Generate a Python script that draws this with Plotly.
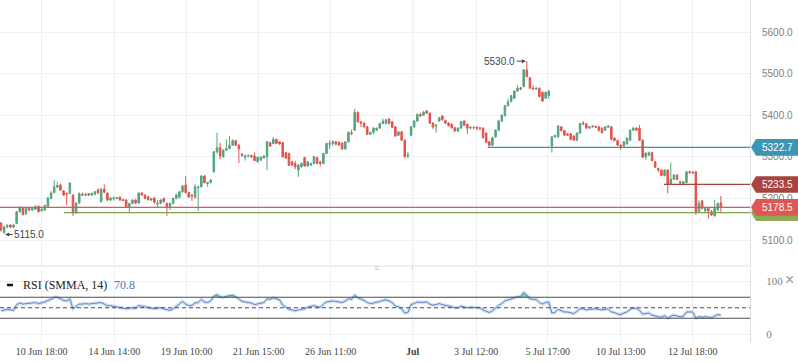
import plotly.graph_objects as go

opens = [
    5141, 5118, 5132, 5136, 5131, 5140, 5168, 5177, 5163, 5176,
    5172, 5174, 5181, 5170, 5172, 5181, 5200, 5214, 5227, 5232,
    5218, 5212, 5212, 5208, 5165, 5189, 5210, 5208, 5211, 5208,
    5210, 5220, 5192, 5222, 5213, 5196, 5199, 5200, 5203, 5197,
    5196, 5180, 5188, 5196, 5189, 5213, 5208, 5204, 5196, 5201,
    5186, 5188, 5200, 5188, 5180, 5188, 5200, 5203, 5216, 5232,
    5214, 5208, 5203, 5226, 5228, 5254, 5235, 5238, 5264, 5312,
    5322, 5300, 5316, 5320, 5328, 5339, 5328, 5307, 5299, 5302,
    5303, 5302, 5288, 5292, 5297, 5300, 5334, 5332, 5342, 5336,
    5334, 5310, 5308, 5288, 5284, 5268, 5276, 5298, 5278, 5280,
    5284, 5298, 5288, 5284, 5308, 5330, 5332, 5336, 5335, 5333,
    5319, 5336, 5358, 5364, 5407, 5384, 5381, 5372, 5354, 5359,
    5364, 5369, 5380, 5380, 5391, 5384, 5372, 5352, 5360, 5340,
    5302, 5352, 5372, 5386, 5402, 5400, 5410, 5405, 5381, 5374,
    5386, 5398, 5387, 5381, 5378, 5370, 5362, 5369, 5386, 5378,
    5369, 5370, 5371, 5370, 5369, 5357, 5336, 5328, 5348, 5364,
    5386, 5399, 5423, 5433, 5441, 5458, 5466, 5469, 5509, 5490,
    5465, 5463, 5465, 5455, 5441, 5447, 5326, 5348, 5348, 5372,
    5363, 5355, 5355, 5350, 5340, 5357, 5381, 5379, 5369, 5372,
    5373, 5372, 5369, 5364, 5371, 5372, 5345, 5339, 5328, 5326,
    5331, 5340, 5364, 5369, 5369, 5340, 5300, 5304, 5310, 5288,
    5272, 5268, 5255, 5268, 5234, 5246, 5256, 5240, 5236, 5238,
    5264, 5263, 5264, 5168, 5194, 5170, 5176, 5168, 5158, 5172,
    5189,
]
highs = [
    5143, 5134, 5138, 5138, 5139, 5170, 5182, 5179, 5179, 5178,
    5180, 5184, 5183, 5177, 5185, 5203, 5218, 5244, 5240, 5236,
    5220, 5214, 5238, 5210, 5190, 5214, 5214, 5212, 5213, 5214,
    5218, 5224, 5226, 5234, 5215, 5203, 5204, 5203, 5205, 5199,
    5198, 5189, 5198, 5198, 5215, 5215, 5210, 5206, 5201, 5203,
    5196, 5198, 5202, 5190, 5190, 5202, 5212, 5218, 5232, 5254,
    5216, 5210, 5234, 5230, 5256, 5256, 5240, 5246, 5314, 5358,
    5334, 5318, 5342, 5350, 5342, 5341, 5330, 5309, 5305, 5306,
    5305, 5310, 5301, 5301, 5304, 5338, 5336, 5348, 5344, 5338,
    5336, 5312, 5310, 5290, 5290, 5282, 5286, 5300, 5290, 5286,
    5302, 5300, 5290, 5310, 5334, 5340, 5340, 5338, 5337, 5335,
    5338, 5361, 5365, 5415, 5409, 5386, 5383, 5374, 5360, 5371,
    5370, 5382, 5392, 5390, 5393, 5386, 5374, 5362, 5362, 5342,
    5312, 5374, 5388, 5404, 5406, 5410, 5413, 5407, 5383, 5378,
    5396, 5400, 5389, 5383, 5380, 5372, 5371, 5386, 5388, 5380,
    5373, 5374, 5373, 5372, 5371, 5359, 5338, 5348, 5366, 5388,
    5402, 5425, 5440, 5449, 5460, 5472, 5468, 5511, 5530, 5492,
    5472, 5467, 5467, 5457, 5457, 5460, 5350, 5353, 5376, 5374,
    5365, 5357, 5357, 5352, 5359, 5382, 5386, 5381, 5374, 5376,
    5375, 5374, 5371, 5374, 5376, 5374, 5347, 5341, 5330, 5338,
    5347, 5366, 5372, 5371, 5376, 5342, 5311, 5313, 5312, 5290,
    5274, 5270, 5270, 5270, 5286, 5258, 5258, 5242, 5242, 5266,
    5267, 5265, 5266, 5196, 5196, 5178, 5178, 5172, 5196, 5190,
    5206,
]
lows = [
    5120, 5115, 5128, 5129, 5129, 5138, 5165, 5159, 5161, 5170,
    5171, 5172, 5166, 5168, 5170, 5180, 5198, 5212, 5225, 5218,
    5206, 5184, 5210, 5158, 5163, 5187, 5206, 5205, 5206, 5206,
    5208, 5210, 5190, 5212, 5194, 5194, 5195, 5198, 5194, 5194,
    5178, 5165, 5186, 5186, 5187, 5207, 5198, 5195, 5194, 5188,
    5178, 5186, 5190, 5158, 5172, 5186, 5198, 5200, 5214, 5212,
    5202, 5194, 5200, 5170, 5226, 5236, 5228, 5236, 5262, 5308,
    5294, 5298, 5314, 5318, 5326, 5326, 5285, 5300, 5291, 5298,
    5298, 5290, 5286, 5290, 5295, 5268, 5324, 5330, 5330, 5329,
    5298, 5295, 5278, 5278, 5270, 5252, 5274, 5276, 5276, 5278,
    5282, 5282, 5277, 5282, 5306, 5319, 5326, 5328, 5326, 5317,
    5317, 5334, 5352, 5362, 5382, 5372, 5370, 5352, 5352, 5354,
    5362, 5367, 5378, 5378, 5378, 5369, 5348, 5350, 5338, 5298,
    5296, 5350, 5370, 5384, 5396, 5398, 5403, 5379, 5367, 5358,
    5384, 5387, 5379, 5373, 5368, 5360, 5360, 5367, 5374, 5355,
    5366, 5366, 5364, 5364, 5344, 5333, 5325, 5326, 5346, 5362,
    5384, 5397, 5421, 5431, 5439, 5456, 5460, 5467, 5491, 5463,
    5461, 5460, 5443, 5432, 5439, 5440, 5310, 5346, 5346, 5361,
    5350, 5350, 5340, 5338, 5338, 5355, 5376, 5367, 5367, 5370,
    5369, 5361, 5356, 5362, 5369, 5340, 5337, 5326, 5316, 5324,
    5329, 5338, 5362, 5362, 5338, 5297, 5293, 5302, 5289, 5273,
    5263, 5253, 5253, 5212, 5232, 5244, 5244, 5232, 5232, 5236,
    5260, 5260, 5160, 5166, 5174, 5168, 5152, 5158, 5156, 5170,
    5166,
]
closes = [
    5124, 5132, 5135, 5131, 5136, 5168, 5177, 5161, 5176, 5172,
    5176, 5180, 5168, 5174, 5183, 5201, 5213, 5228, 5231, 5220,
    5208, 5210, 5237, 5165, 5189, 5212, 5208, 5210, 5208, 5212,
    5216, 5214, 5222, 5215, 5196, 5201, 5201, 5202, 5196, 5195,
    5180, 5188, 5196, 5189, 5213, 5208, 5200, 5197, 5200, 5190,
    5188, 5196, 5192, 5180, 5188, 5200, 5208, 5216, 5230, 5214,
    5203, 5206, 5228, 5228, 5254, 5238, 5238, 5244, 5312, 5322,
    5302, 5316, 5320, 5328, 5339, 5328, 5319, 5304, 5302, 5303,
    5300, 5291, 5299, 5299, 5302, 5336, 5326, 5342, 5332, 5331,
    5300, 5297, 5280, 5280, 5276, 5280, 5284, 5278, 5288, 5284,
    5300, 5284, 5284, 5308, 5332, 5332, 5336, 5330, 5328, 5319,
    5336, 5359, 5356, 5407, 5384, 5381, 5372, 5354, 5359, 5369,
    5369, 5380, 5386, 5389, 5380, 5371, 5350, 5360, 5340, 5300,
    5305, 5372, 5386, 5402, 5398, 5407, 5405, 5381, 5372, 5376,
    5394, 5389, 5381, 5375, 5370, 5362, 5369, 5384, 5376, 5369,
    5371, 5370, 5369, 5368, 5346, 5335, 5327, 5346, 5364, 5386,
    5400, 5423, 5432, 5447, 5458, 5465, 5463, 5509, 5493, 5465,
    5463, 5465, 5445, 5434, 5455, 5458, 5348, 5351, 5374, 5363,
    5352, 5352, 5342, 5340, 5357, 5380, 5379, 5369, 5372, 5374,
    5371, 5363, 5358, 5372, 5374, 5342, 5339, 5328, 5324, 5336,
    5345, 5364, 5369, 5364, 5340, 5299, 5309, 5310, 5291, 5275,
    5268, 5255, 5268, 5234, 5246, 5256, 5246, 5237, 5240, 5264,
    5262, 5261, 5168, 5188, 5176, 5176, 5170, 5160, 5176, 5188,
    5178.5,
]
rsi = [
    44, 46, 47, 46, 45, 56, 59, 57, 58, 58,
    59, 60, 58, 59, 61, 64, 66, 70, 70, 67,
    64, 63, 67, 48, 53, 57, 57, 58, 57, 58,
    59, 60, 60, 57, 54, 54, 53, 52, 51, 50,
    48, 49, 50, 49, 54, 53, 52, 50, 49, 48,
    49, 50, 48, 46, 45, 48, 52, 57, 62, 57,
    54, 55, 59, 60, 66, 61, 60, 63, 72, 75,
    71, 70, 72, 73, 74, 71, 67, 62, 61, 60,
    59, 56, 57, 59, 60, 67, 66, 69, 67, 65,
    55, 51, 47, 46, 44, 46, 47, 48, 51, 52,
    54, 52, 51, 57, 61, 62, 63, 62, 61, 60,
    63, 67, 66, 74, 69, 67, 64, 60, 58, 59,
    60, 62, 64, 65, 63, 60, 53, 52, 48, 40,
    41, 56, 58, 61, 60, 61, 61, 57, 55, 56,
    58, 56, 55, 53, 52, 50, 50, 53, 52, 50,
    51, 51, 51, 50, 46, 43, 41, 44, 49, 55,
    58, 63, 65, 67, 70, 71, 71, 79, 74, 67,
    66, 66, 60, 57, 60, 61, 40, 41, 47, 45,
    42, 42, 40, 39, 43, 48, 48, 46, 47, 48,
    48, 47, 46, 47, 48, 42, 41, 38, 37, 40,
    42, 47, 49, 49, 45, 38, 39, 40, 36, 34,
    33, 32, 35, 30, 34, 36, 34, 33, 34, 42,
    42, 42, 30, 33, 32, 33, 32, 31, 34, 37,
    36,
]
tick_pos = [13.0, 36.2, 59.3, 82.3, 105.3, 131.5, 151.8, 174.7, 198.0, 221.0]
tick_text = ["10 Jun 18:00", "14 Jun 14:00", "19 Jun 10:00", "21 Jun 15:00",
             "26 Jun 11:00", "<b>Jul</b>", "3 Jul 12:00", "5 Jul 17:00",
             "10 Jul 13:00", "12 Jul 18:00"]
price_ticks = [5100, 5200, 5300, 5400, 5500, 5600]
# horizontal levels: value, start index
lvl_support = (5322.7, 155.5)
lvl_resist = (5233.5, 211.8)
lvl_last = (5178.5, -0.32)
lvl_green = (5165.6, 20.1)
rsi_levels = [30, 50, 70]
high_note = (168, 5530.0, "5530.0")
low_note = (1, 5113.0, "5115.0")

N = min(len(opens), len(highs), len(lows), len(closes))
xs = list(range(N))
NR = len(rsi)

W, H = 798, 363
PW, PH = 750, 342
XR = [-0.32, 239.3]
YR = [5037.5, 5677]
RR = [-15.2, 121.9]
main_dom = [1 - 266 / PH, 1]
rsi_dom = [0, 1 - 270 / PH]

GREEN = "#55a47f"
RED = "#e2544f"
GRID = "#eceff3"

def vy(v):
    return main_dom[0] + (v - YR[0]) / (YR[1] - YR[0]) * (main_dom[1] - main_dom[0])

def py(p):
    return 1 - p / PH

fig = go.Figure()
fig.add_trace(go.Candlestick(
    x=xs, open=opens[:N], high=highs[:N], low=lows[:N], close=closes[:N],
    increasing=dict(line=dict(color=GREEN, width=1), fillcolor=GREEN),
    decreasing=dict(line=dict(color=RED, width=1), fillcolor=RED),
    whiskerwidth=0, xaxis="x", yaxis="y", hoverinfo="skip"))

# RSI
rx = list(range(NR))
fig.add_trace(go.Scatter(x=rx, y=[70] * NR, mode="lines", line=dict(width=0),
                         xaxis="x2", yaxis="y2", hoverinfo="skip"))
fig.add_trace(go.Scatter(x=rx, y=[max(v, 70) for v in rsi], mode="lines",
                         line=dict(width=0), fill="tonexty", fillcolor="#86dc86",
                         xaxis="x2", yaxis="y2", hoverinfo="skip"))
fig.add_trace(go.Scatter(x=rx, y=rsi, mode="lines",
                         line=dict(color="rgba(130,170,220,0.35)", width=3.5),
                         xaxis="x2", yaxis="y2", hoverinfo="skip"))
fig.add_trace(go.Scatter(x=rx, y=rsi, mode="lines",
                         line=dict(color="#5a86c4", width=1),
                         xaxis="x2", yaxis="y2", hoverinfo="skip"))

shapes = []
for (val, start), col in [(lvl_green, "#7e9f4c"), (lvl_last, "#e05654"),
                          (lvl_resist, "#a9433f"), (lvl_support, "#3a8fac")]:
    shapes.append(dict(type="line", xref="x", yref="y", x0=start, x1=XR[1],
                       y0=val, y1=val, line=dict(color=col, width=1.2)))
shapes.append(dict(type="line", xref="x", yref="paper", x0=131.5, x1=131.5,
                   y0=0, y1=1, line=dict(color="#d3d6db", width=1), layer="below"))
shapes.append(dict(type="line", xref="paper", yref="paper", x0=0, x1=1,
                   y0=main_dom[0], y1=main_dom[0], line=dict(color="#dde1e6", width=1)))
for lv in rsi_levels:
    shapes.append(dict(type="line", xref="paper", yref="y2", x0=0, x1=1, y0=lv, y1=lv,
                       line=dict(color="#4d4d4d", width=1,
                                 dash="4px,3px" if lv == 50 else "solid")))
annotations = []
def tag(val, color, text=True):
    yc = vy(val)
    h = 8.3 / PH
    path = (f"M {751/PW},{yc} L {756/PW},{yc+h} L {798/PW},{yc+h} "
            f"L {798/PW},{yc-h} L {756/PW},{yc-h} Z")
    shapes.append(dict(type="path", xref="paper", yref="paper", path=path,
                       fillcolor=color, line=dict(width=0), layer="above"))
    if text:
        annotations.append(dict(xref="paper", yref="paper", x=777 / PW, y=yc,
                                text=f"{val:.1f}", showarrow=False,
                                font=dict(family="Liberation Sans", size=10, color="white"),
                                xanchor="center", yanchor="middle"))

tag(lvl_support[0], "#3e95b2")
tag(lvl_resist[0], "#a9433f")
tag(lvl_green[0], "#8bab55", text=False)
tag(lvl_last[0], "#e05654")

shapes.append(dict(type="line", xref="paper", yref="paper", x0=7 / PW, x1=13 / PW,
                   y0=py(285), y1=py(285), line=dict(color="#111", width=2.5)))
annotations += [
    dict(xref="paper", yref="paper", x=21 / PW, y=py(285), text="RSI (SMMA, 14)",
         showarrow=False, xanchor="left", yanchor="middle",
         font=dict(family="Liberation Serif", size=12, color="#222")),
    dict(xref="paper", yref="paper", x=112 / PW, y=py(285), text="70.8",
         showarrow=False, xanchor="left", yanchor="middle",
         font=dict(family="Liberation Serif", size=12, color="#4a7ac4")),
    dict(xref="paper", yref="paper", x=789 / PW, y=py(279), text="×",
         showarrow=False, xanchor="center", yanchor="middle",
         font=dict(family="Liberation Sans", size=16, color="#999")),
    dict(xref="paper", yref="paper", x=376 / PW, y=py(268), text="≡",
         showarrow=False, xanchor="center", yanchor="middle",
         font=dict(family="Liberation Sans", size=9, color="#c4c8cc")),
    dict(xref="x", yref="y", x=high_note[0], y=high_note[1], text=high_note[2],
         showarrow=True, ax=-27, ay=0, arrowhead=2, arrowsize=0.8, arrowwidth=1,
         arrowcolor="#444", standoff=1,
         font=dict(family="Liberation Sans", size=10, color="#444")),
    dict(xref="x", yref="y", x=low_note[0], y=low_note[1], text=low_note[2],
         showarrow=True, ax=25, ay=0, arrowhead=2, arrowsize=0.8, arrowwidth=1,
         arrowcolor="#444", standoff=1,
         font=dict(family="Liberation Sans", size=10, color="#444")),
]

fig.update_layout(
    width=W, height=H, margin=dict(l=0, r=W - PW, t=0, b=H - PH),
    paper_bgcolor="white", plot_bgcolor="white", showlegend=False, hovermode=False,
    xaxis=dict(domain=[0, 1], range=XR, anchor="y", tickmode="array", tickvals=tick_pos,
               ticktext=tick_text, showticklabels=False, showgrid=True, gridcolor=GRID,
               gridwidth=1, zeroline=False, rangeslider=dict(visible=False), fixedrange=True),
    yaxis=dict(domain=main_dom, range=YR, side="right", anchor="x", tickmode="array",
               tickvals=price_ticks, ticktext=[f"{v:.1f}" for v in price_ticks],
               showgrid=True, gridcolor=GRID, zeroline=False, showline=True,
               linecolor="#d8dde3", ticks="", ticklabelstandoff=9,
               tickfont=dict(family="Liberation Sans", size=10, color="#808080")),
    xaxis2=dict(domain=[0, 1], range=XR, anchor="y2", matches="x", tickmode="array",
                tickvals=tick_pos, ticktext=tick_text, showgrid=True, gridcolor=GRID,
                zeroline=False, ticks="", ticklabelstandoff=2,
                tickfont=dict(family="Liberation Serif", size=10, color="#444")),
    yaxis2=dict(domain=rsi_dom, range=RR, side="right", anchor="x2", tickmode="array",
                tickvals=[0, 100], ticktext=["0", "100"], showgrid=True, gridcolor=GRID,
                zeroline=False, showline=True, linecolor="#d8dde3", ticks="",
                ticklabelstandoff=13,
                tickfont=dict(family="Liberation Serif", size=11, color="#808080")),
    shapes=shapes, annotations=annotations,
)

fig.write_html("out.html", config={"displayModeBar": False},
               post_script="document.body.style.margin='0';document.body.style.overflow='hidden';")
